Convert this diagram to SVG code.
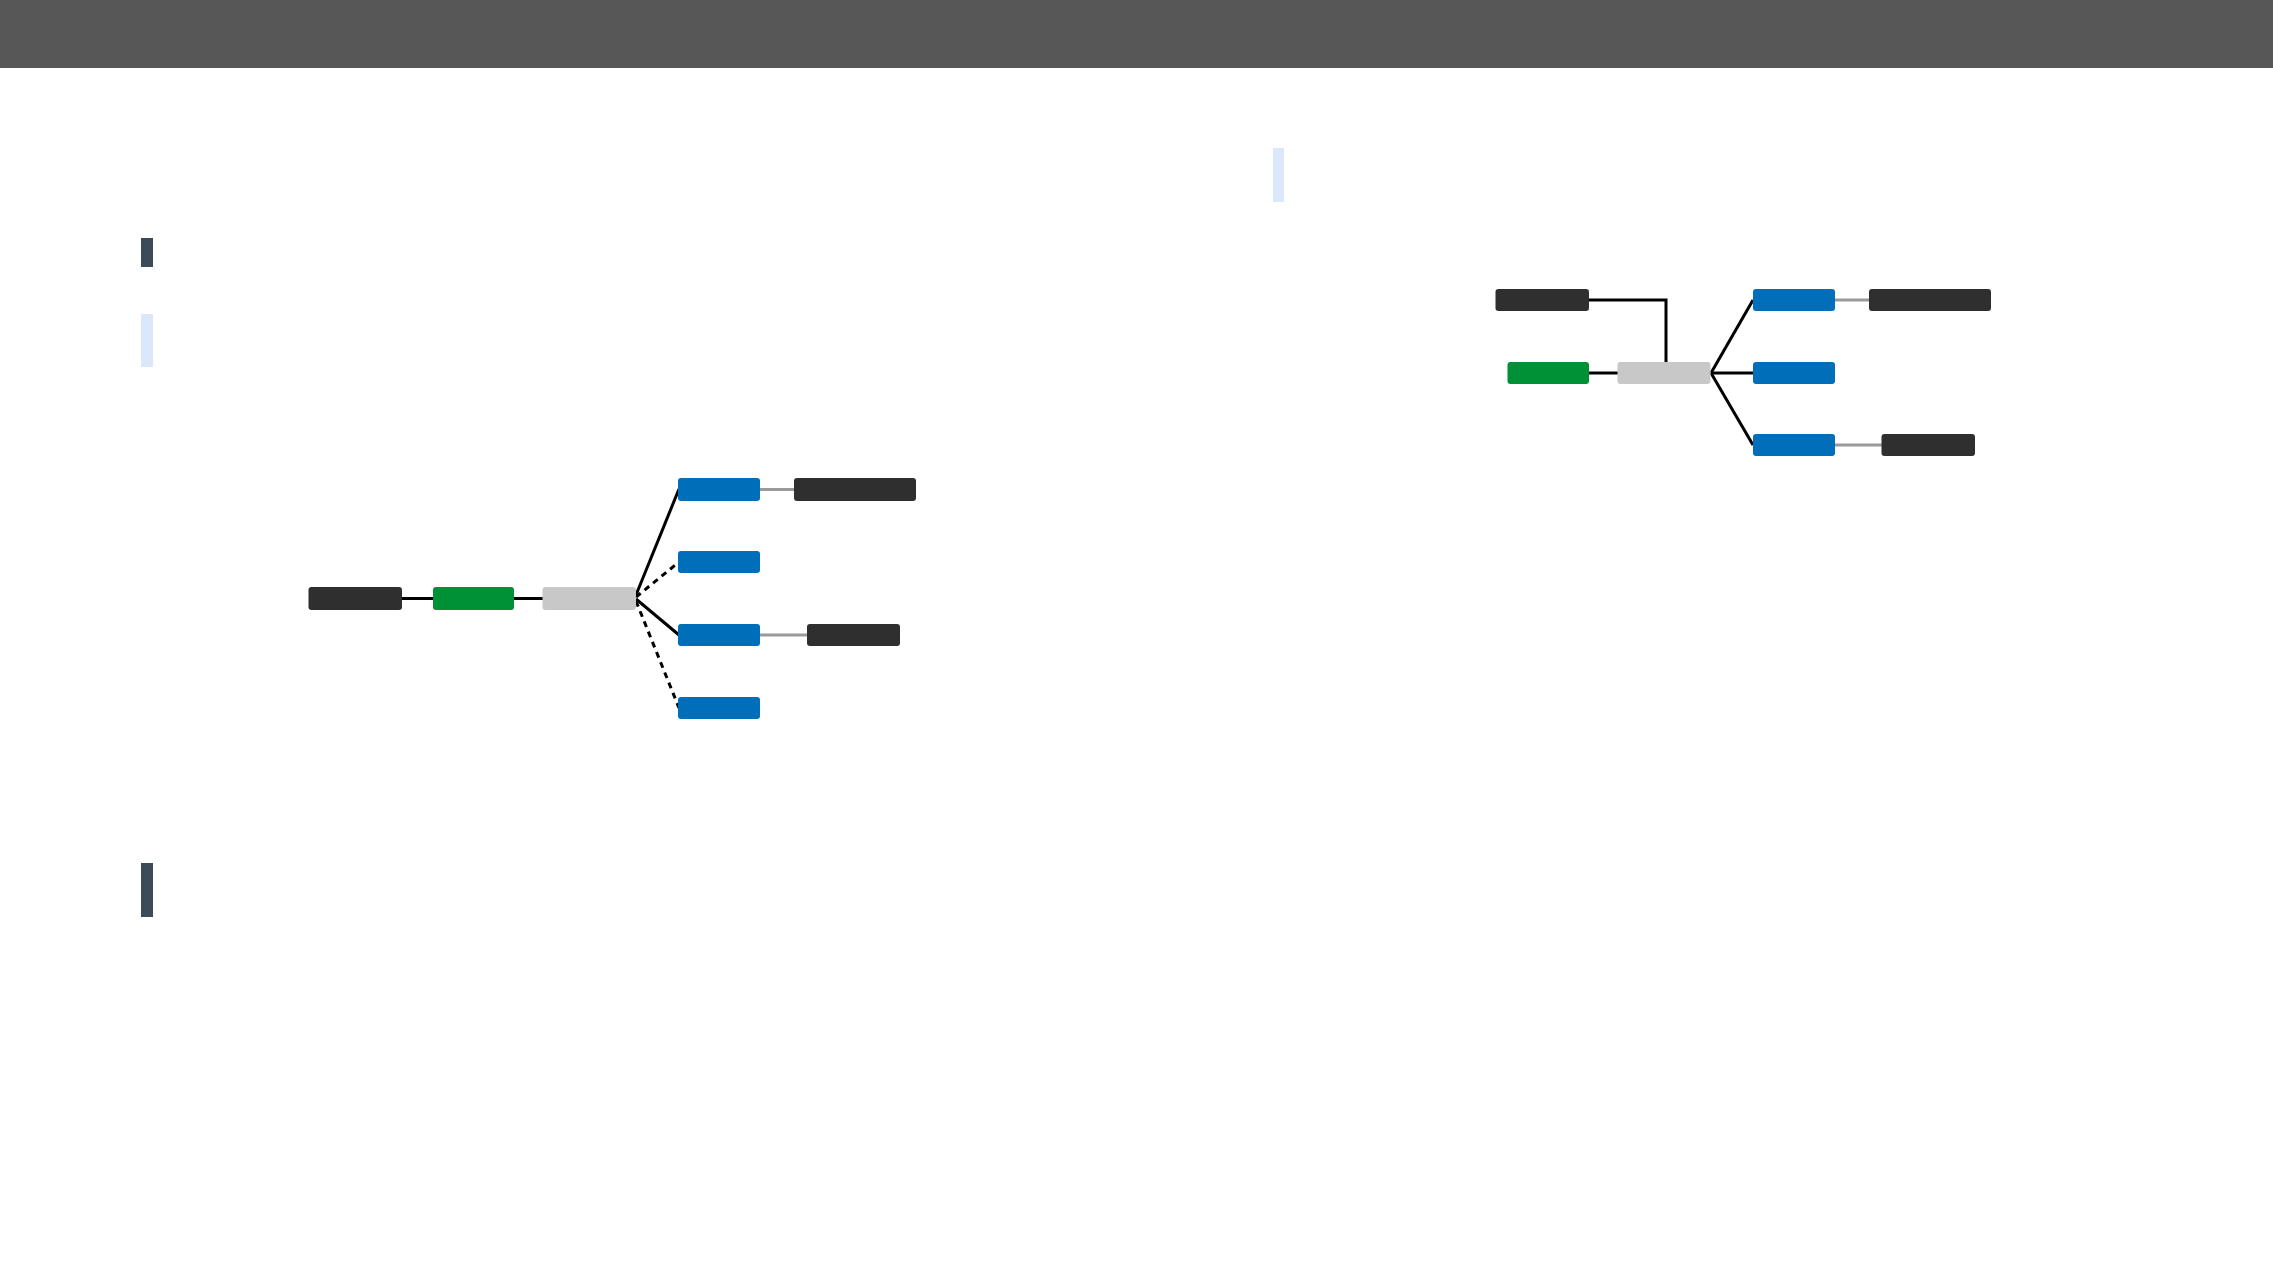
<svg xmlns="http://www.w3.org/2000/svg" width="2273" height="1276" viewBox="0 0 2273 1276">
<style>
.dark{fill:#2f2f2f}
.green{fill:#009036}
.grey{fill:#c8c8c8}
.blue{fill:#006eb8}
.ln{stroke:#000;stroke-width:3;fill:none}
.dash{stroke-dasharray:6 5}
.lg{stroke:#9a9a9a;stroke-width:3;fill:none}
</style>
<rect x="0" y="0" width="2273" height="68" fill="#575757"/>
<rect x="141" y="238" width="12" height="29" fill="#3d4b59"/>
<rect x="141" y="314" width="12" height="53" fill="#dbe8fb"/>
<rect x="1273" y="148" width="11" height="54" fill="#dbe8fb"/>
<rect x="141" y="863" width="12" height="54" fill="#3d4b59"/>
<g id="connectors">
<path class="ln" d="M401 598.5H434"/>
<path class="ln" d="M513 598.5H543"/>
<path class="ln" d="M636 595L679 489"/>
<path class="ln dash" d="M636 597L679 562"/>
<path class="ln" d="M636 599L679 635"/>
<path class="ln dash" d="M636 601L679 708"/>
<path class="lg" d="M759 489.5H794"/>
<path class="lg" d="M759 635H807"/>
<path class="ln" d="M1589 300H1666V362"/>
<path class="ln" d="M1589 373H1618"/>
<path class="ln" d="M1711 373L1753 300"/>
<path class="ln" d="M1711 373H1753"/>
<path class="ln" d="M1711 373L1753 445"/>
<path class="lg" d="M1834 300H1869"/>
<path class="lg" d="M1834 445H1882"/>
</g>
<g id="n1"><rect class="dark" x="308.5" y="587" width="93.5" height="23" rx="3"/></g>
<g id="n2"><rect class="green" x="433" y="587" width="81" height="23" rx="3"/></g>
<g id="n3"><rect class="grey" x="542.5" y="587" width="93.5" height="23" rx="3"/></g>
<g id="n4"><rect class="blue" x="678" y="478" width="82" height="23" rx="3"/></g>
<g id="n5"><rect class="blue" x="678" y="551" width="82" height="22" rx="3"/></g>
<g id="n6"><rect class="blue" x="678" y="624" width="82" height="22" rx="3"/></g>
<g id="n7"><rect class="blue" x="678" y="697" width="82" height="22" rx="3"/></g>
<g id="n8"><rect class="dark" x="794" y="478" width="122" height="23" rx="3"/></g>
<g id="n9"><rect class="dark" x="807" y="624" width="93" height="22" rx="3"/></g>
<g id="m1"><rect class="dark" x="1495.5" y="289" width="93.5" height="22" rx="3"/></g>
<g id="m2"><rect class="green" x="1507.5" y="362" width="81.5" height="22" rx="3"/></g>
<g id="m3"><rect class="grey" x="1617.5" y="362" width="93" height="22" rx="3"/></g>
<g id="m4"><rect class="blue" x="1753" y="289" width="82" height="22" rx="3"/></g>
<g id="m5"><rect class="blue" x="1753" y="362" width="82" height="22" rx="3"/></g>
<g id="m6"><rect class="blue" x="1753" y="434" width="82" height="22" rx="3"/></g>
<g id="m7"><rect class="dark" x="1869" y="289" width="122" height="22" rx="3"/></g>
<g id="m8"><rect class="dark" x="1881.5" y="434" width="93.5" height="22" rx="3"/></g>
</svg>
